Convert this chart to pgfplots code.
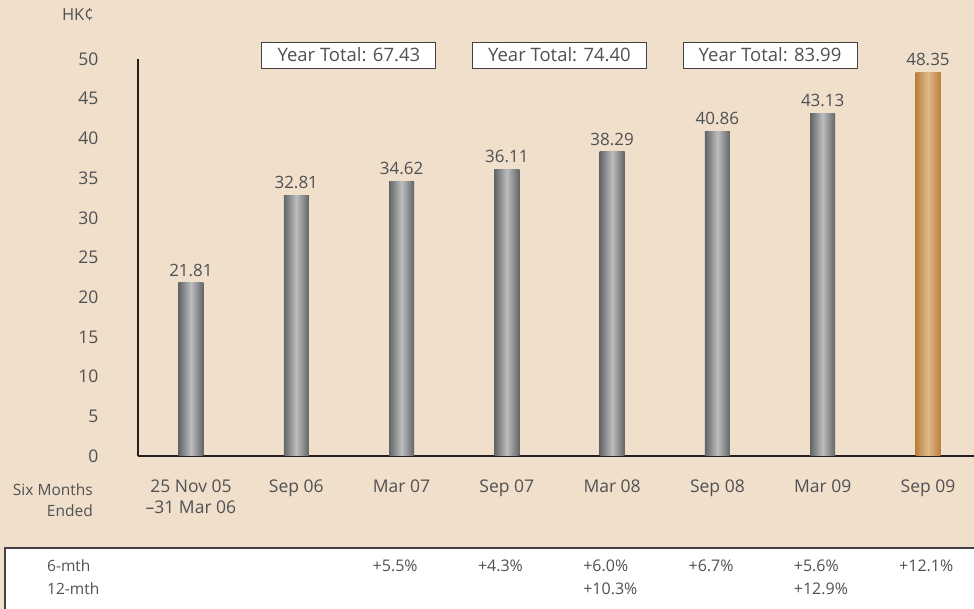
\documentclass[border=0pt]{standalone}
\usepackage{pgfplots}
\pgfplotsset{compat=1.18}
\usepackage{fontspec}
\setmainfont{Open Sans}
\definecolor{bg}{HTML}{EFDFCB}
\definecolor{txt}{HTML}{505153}
\definecolor{axc}{HTML}{231F20}
\definecolor{gedge}{HTML}{636466}
\definecolor{gmid}{HTML}{BCBDBF}
\definecolor{oedge}{HTML}{B8803B}
\definecolor{omid}{HTML}{DFB98A}
\tikzset{yt/.style={draw=axc!85, line width=0.9pt, fill=white, minimum width=174pt, minimum height=26pt, text=txt, font=\fontsize{18.5}{21}\selectfont},
  pc/.style={anchor=west, text=txt, font=\fontsize{16}{19}\selectfont, inner sep=0pt, xshift=-29pt}}
\pgfplotsset{gbar/.style={ybar, bar width=25pt, bar shift=0pt, draw=none, left color=gedge, right color=gedge, middle color=gmid},
  obar/.style={ybar, bar width=25pt, bar shift=0pt, draw=none, left color=oedge, right color=oedge, middle color=omid}}
\begin{document}
\begin{tikzpicture}[x=1pt,y=1pt]
\fill[bg] (-138,-153) rectangle (836,456);
\path[use as bounding box] (-138,-153) rectangle (836,456);
\fill[white] (-133,-92) rectangle (840,-160);
\draw[axc!85, line width=1.2pt] (-133,-160) -- (-133,-92) -- (840,-92);
\begin{axis}[at={(0,0)}, anchor=south west, scale only axis,
  width=836pt, height=397pt,
  xmin=-0.503, xmax=7.437, ymin=0, ymax=50,
  axis x line*=bottom, axis y line*=left,
  axis line style={axc, line width=2pt, -},
  clip=false,
  major tick length=0pt, tick style={draw=none},
  ytick={0,5,...,50},
  /pgf/number format/assume math mode=true,
  yticklabel style={font=\fontsize{17.5}{20}\selectfont, text=txt, xshift=-36pt},
  xtick={0,...,7},
  xticklabels={{25 Nov 05\\\textendash31 Mar 06},Sep 06,Mar 07,Sep 07,Mar 08,Sep 08,Mar 09,Sep 09},
  xticklabel style={font=\fontsize{17.5}{21.5}\selectfont, text=txt, align=center, yshift=-20pt},
  nodes near coords, point meta=explicit symbolic,
  nodes near coords style={font=\fontsize{17}{20}\selectfont, text=txt, yshift=3pt},
]
\addplot[gbar] coordinates {(0,21.81) [21.81]};
\addplot[gbar] coordinates {(1,32.81) [32.81]};
\addplot[gbar] coordinates {(2,34.62) [34.62]};
\addplot[gbar] coordinates {(3,36.11) [36.11]};
\addplot[gbar] coordinates {(4,38.29) [38.29]};
\addplot[gbar] coordinates {(5,40.86) [40.86]};
\addplot[gbar] coordinates {(6,43.13) [43.13]};
\addplot[obar] coordinates {(7,48.35) [48.35]};
\node[yt] at (axis cs:1.5,50.5) {Year Total: 67.43};
\node[yt] at (axis cs:3.5,50.5) {Year Total: 74.40};
\node[yt] at (axis cs:5.5,50.5) {Year Total: 83.99};
\node[pc] at (axis cs:2,-13.85) {+5.5\%};
\node[pc] at (axis cs:3,-13.85) {+4.3\%};
\node[pc] at (axis cs:4,-13.85) {+6.0\%};
\node[pc] at (axis cs:4,-16.75) {+10.3\%};
\node[pc] at (axis cs:5,-13.85) {+6.7\%};
\node[pc] at (axis cs:6,-13.85) {+5.6\%};
\node[pc] at (axis cs:6,-16.75) {+12.9\%};
\node[pc] at (axis cs:7,-13.85) {+12.1\%};
\end{axis}
\node[anchor=east, text=txt, font=\fontsize{16.5}{19}\selectfont, inner sep=0pt] at (-44,441) {HK¢};
\node[anchor=east, text=txt, align=right, font=\fontsize{15.5}{21}\selectfont, inner sep=0pt] at (-45,-44) {Six Months\\Ended};
\node[anchor=west, text=txt, font=\fontsize{15.5}{18}\selectfont, inner sep=0pt] at (-91,-110) {6-mth};
\node[anchor=west, text=txt, font=\fontsize{15.5}{18}\selectfont, inner sep=0pt] at (-91,-133) {12-mth};
\end{tikzpicture}
\end{document}
